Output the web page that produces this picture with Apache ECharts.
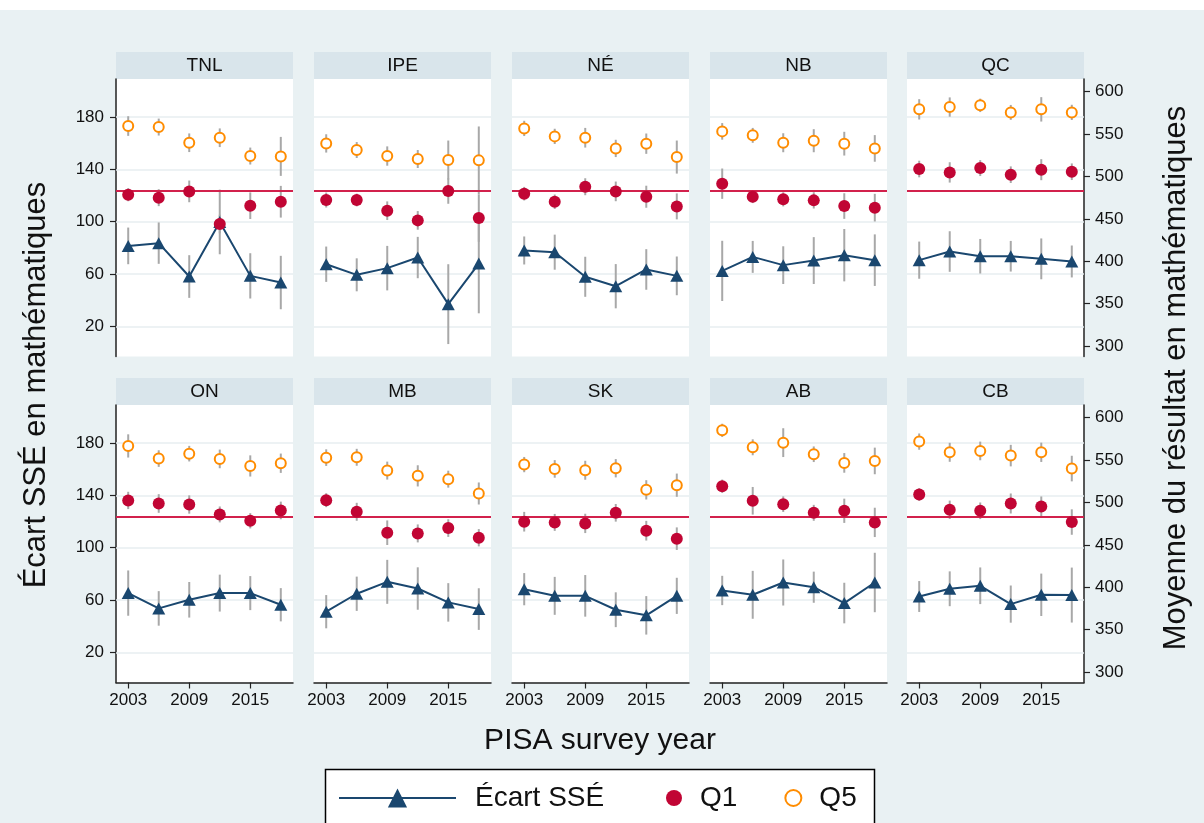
<!DOCTYPE html>
<html>
<head>
<meta charset="utf-8">
<title>Écart SSÉ en mathématiques</title>
<script src="https://cdn.jsdelivr.net/npm/echarts@6/dist/echarts.min.js"></script>
<style>
  html, body { margin: 0; padding: 0; background: #e9f1f3; }
  #chart { width: 1204px; height: 823px; }
</style>
</head>
<body>
<div id="chart"></div>
<script>
// categories
const regions = ['TNL', 'IPE', 'NÉ', 'NB', 'QC', 'ON', 'MB', 'SK', 'AB', 'CB']
const years = [2003, 2006, 2009, 2012, 2015, 2018]
const xTicks = [2003, 2009, 2015]
const leftTicks = [20, 60, 100, 140, 180]
const rightTicks = [300, 350, 400, 450, 500, 550, 600]
const refLine = 483

// Écart SSÉ (axe de gauche) et demi-largeur de l'intervalle
const ecart = [
  [81.5, 83.6, 58.1, 99.8, 58.6, 53.5],
  [67.5, 59.4, 64.5, 72.6, 37.0, 68.0],
  [78.0, 76.7, 57.9, 50.7, 63.5, 58.6],
  [62.4, 73.1, 66.8, 70.3, 74.4, 70.6],
  [70.6, 77.2, 73.6, 73.6, 71.6, 69.6],
  [65.3, 53.6, 60.2, 65.3, 65.3, 56.4],
  [51.1, 64.8, 73.9, 68.8, 58.2, 53.1],
  [68.3, 63.2, 63.2, 52.6, 48.3, 63.2],
  [67.3, 64.0, 73.4, 69.8, 57.7, 73.4],
  [62.7, 68.6, 70.9, 56.9, 64.0, 63.8]
]
const ecartErr = [
  [14, 15.8, 16.3, 24.7, 17.3, 20.4],
  [13.5, 12.6, 17, 15.8, 30.5, 38],
  [10.7, 13.4, 15.3, 16.9, 15.5, 14.8],
  [23, 12.2, 14.4, 17.9, 20, 19.7],
  [14.2, 15.5, 13.2, 11.7, 15.6, 12.2],
  [17.3, 13.2, 13.6, 14.1, 13, 12.7],
  [12.7, 13.1, 16.8, 16.2, 14.7, 15.9],
  [12.3, 14.5, 15.9, 13.3, 14.7, 13.8],
  [11.2, 18.3, 17.6, 11.9, 15.5, 22.7],
  [11.8, 13.3, 14, 14.2, 16.2, 21]
]

// Q1 (axe de droite)
const q1 = [
  [478.5, 475.0, 482.4, 443.9, 465.5, 470.2],
  [472.2, 472.2, 459.6, 448.2, 482.8, 450.9],
  [479.7, 470.2, 487.9, 482.4, 476.1, 464.7],
  [491.5, 476.1, 473.0, 471.8, 465.1, 463.2],
  [508.8, 504.8, 509.9, 502.1, 508.0, 505.6],
  [502.4, 498.8, 497.6, 485.9, 478.4, 490.6],
  [502.7, 489.0, 464.3, 463.5, 469.8, 458.4],
  [477.3, 476.5, 475.3, 487.8, 466.7, 457.3],
  [519.2, 502.0, 498.0, 487.8, 490.2, 476.5],
  [509.4, 491.4, 490.2, 498.8, 495.3, 476.9]
]
const q1Err = [
  [7.7, 10, 12.8, 11, 15.7, 18.7],
  [8.8, 7.5, 11, 11, 15, 28],
  [8, 8.5, 10, 11.6, 13, 15.3],
  [17.9, 7.5, 8.3, 9.6, 15.1, 16.3],
  [9.8, 12, 9.4, 9.8, 12.4, 9.8],
  [10.2, 11, 10.8, 9.4, 9, 10.4],
  [8.2, 10.6, 14.5, 10.6, 10.4, 10.2],
  [11.6, 10, 11.4, 10.4, 11.6, 13.3],
  [7.8, 16.3, 9.2, 9.4, 14.3, 17.3],
  [7.5, 10.8, 9.8, 11.8, 11.8, 15]
]

// Q5 (axe de droite)
const q5 = [
  [559.5, 558.3, 539.8, 545.7, 524.1, 523.7],
  [539.0, 531.2, 524.1, 520.6, 519.4, 519.0],
  [556.7, 547.3, 545.7, 533.1, 538.7, 522.9],
  [553.2, 548.5, 539.8, 542.2, 538.7, 533.1],
  [579.2, 581.9, 583.9, 575.6, 579.2, 575.6],
  [566.7, 551.8, 557.6, 551.4, 543.1, 546.3],
  [552.9, 553.3, 537.6, 531.4, 527.5, 510.6],
  [544.7, 539.6, 538.0, 540.4, 514.9, 520.4],
  [585.1, 565.1, 570.6, 556.9, 546.7, 549.0],
  [571.8, 559.2, 560.8, 555.3, 559.2, 540.0]
]
const q5Err = [
  [11.6, 10, 11, 11, 10, 23],
  [10.8, 9.4, 11.4, 10.6, 23, 40],
  [9, 9, 11.6, 10.2, 12, 19.5],
  [9.8, 8.8, 11.2, 13.6, 14, 15.7],
  [12, 11.4, 7.9, 8.8, 14.4, 9],
  [13.7, 9.8, 9.2, 11, 12.5, 11.4],
  [9.8, 10, 10.6, 12.5, 10, 13],
  [9, 10.4, 11.2, 10.8, 11.4, 13.7],
  [7.8, 9.4, 17, 9.2, 11.6, 15.7],
  [9.6, 11.2, 11, 12.7, 11.4, 15.1]
]

const FONT = '"Liberation Sans", Arial, sans-serif'
const NAVY = '#1a476f'
const RED = '#c10534'
const ORANGE = '#ff8c00'
const GREY = '#a8a8a8'

const colLeft = [116, 314, 512, 710, 907]
const rowTop = [79, 405]
const plotW = 177
const plotH = 277.5

// barres d'erreur verticales
function errorBars (means, errs) {
  return years.map(function (y, k) {
    return [y, means[k] - errs[k], means[k] + errs[k]]
  })
}
function renderBar (params, api) {
  let p1 = api.coord([api.value(0), api.value(1)])
  let p2 = api.coord([api.value(0), api.value(2)])
  return {
    type: 'line',
    shape: { x1: p1[0], y1: p1[1], x2: p2[0], y2: p2[1] },
    style: { stroke: GREY, lineWidth: 2 }
  }
}

const grid = []
const xAxis = []
const yAxis = []
const series = []
const graphic = [
  { type: 'rect', shape: { x: 0, y: 0, width: 1204, height: 10 }, style: { fill: '#fff' }, silent: true }
]

regions.forEach(function (name, i) {
  let row = Math.floor(i / 5)
  let col = i % 5
  let left = colLeft[col]
  let top = rowTop[row]

  grid.push({ left: left, top: top, width: plotW, height: plotH, show: true, backgroundColor: '#fff', borderWidth: 0 })

  // en-tête du panneau
  graphic.push({ type: 'rect', shape: { x: left, y: top - 27, width: plotW, height: 27 }, style: { fill: '#d9e5eb' }, silent: true })
  graphic.push({
    type: 'text', x: left + plotW / 2, y: top - 13, silent: true,
    style: { text: name, font: '19px ' + FONT, fill: '#111', align: 'center', verticalAlign: 'middle' }
  })

  xAxis.push({
    type: 'value', gridIndex: i, min: 2001.8, max: 2019.2, show: row === 1,
    axisLine: { onZero: false, lineStyle: { color: '#222', width: 1.5 } },
    axisTick: { length: 6, customValues: xTicks, lineStyle: { color: '#222', width: 1.2 } },
    axisLabel: {
      customValues: xTicks, fontSize: 17, fontFamily: FONT, color: '#111', margin: 9,
      formatter: function (v) { return String(v) }
    },
    splitLine: { show: false }
  })
  yAxis.push({
    type: 'value', gridIndex: i, position: 'left', min: -3, max: 209, show: col === 0,
    axisLine: { show: true, onZero: false, lineStyle: { color: '#222', width: 1.5 } },
    axisTick: { show: true, length: 6, customValues: leftTicks, lineStyle: { color: '#222', width: 1.2 } },
    axisLabel: { customValues: leftTicks, fontSize: 17, fontFamily: FONT, color: '#111', margin: 12 },
    splitLine: { show: false }
  })
  yAxis.push({
    type: 'value', gridIndex: i, position: 'right', min: 287.6, max: 615, show: col === 4,
    axisLine: { show: true, onZero: false, lineStyle: { color: '#222', width: 1.5 } },
    axisTick: { show: true, length: 6, customValues: rightTicks, lineStyle: { color: '#222', width: 1.2 } },
    axisLabel: { customValues: rightTicks, fontSize: 17, fontFamily: FONT, color: '#111', margin: 11 },
    splitLine: { show: false }
  })

  let yl = 2 * i
  let yr = 2 * i + 1

  series.push({
    type: 'custom', xAxisIndex: i, yAxisIndex: yl, z: 2, silent: true,
    renderItem: renderBar, encode: { x: 0, y: [1, 2] },
    data: errorBars(ecart[i], ecartErr[i]),
    markLine: {
      silent: true, symbol: 'none', z: 1, animation: false,
      label: { show: false },
      lineStyle: { color: '#e7eef1', width: 1.5, type: 'solid' },
      data: leftTicks.map(function (v) { return { yAxis: v } })
    }
  })
  series.push({
    type: 'custom', xAxisIndex: i, yAxisIndex: yr, z: 2, silent: true,
    renderItem: renderBar, encode: { x: 0, y: [1, 2] },
    data: errorBars(q1[i], q1Err[i]),
    markLine: {
      silent: true, symbol: 'none', z: 3, animation: false,
      label: { show: false },
      lineStyle: { color: '#d2214c', width: 2, type: 'solid' },
      data: [{ yAxis: refLine }]
    }
  })
  series.push({
    type: 'custom', xAxisIndex: i, yAxisIndex: yr, z: 2, silent: true,
    renderItem: renderBar, encode: { x: 0, y: [1, 2] },
    data: errorBars(q5[i], q5Err[i])
  })
  series.push({
    name: 'Écart SSÉ', type: 'line', xAxisIndex: i, yAxisIndex: yl, z: 4,
    symbol: 'triangle', symbolSize: [13, 12], showSymbol: true,
    lineStyle: { color: NAVY, width: 2 }, itemStyle: { color: NAVY },
    data: years.map(function (y, k) { return [y, ecart[i][k]] })
  })
  series.push({
    name: 'Q1', type: 'scatter', xAxisIndex: i, yAxisIndex: yr, z: 4,
    symbol: 'circle', symbolSize: 12, itemStyle: { color: RED, opacity: 1 },
    data: years.map(function (y, k) { return [y, q1[i][k]] })
  })
  series.push({
    name: 'Q5', type: 'scatter', xAxisIndex: i, yAxisIndex: yr, z: 4,
    symbol: 'circle', symbolSize: 10,
    itemStyle: { color: '#fff', borderColor: ORANGE, borderWidth: 2, opacity: 1 },
    data: years.map(function (y, k) { return [y, q5[i][k]] })
  })
})

// titres des axes
graphic.push({
  type: 'text', x: 36, y: 385, rotation: Math.PI / 2, silent: true,
  style: { text: 'Écart SSÉ en mathématiques', font: '31px ' + FONT, fill: '#111', align: 'center', verticalAlign: 'middle' }
})
graphic.push({
  type: 'text', x: 1176, y: 378, rotation: Math.PI / 2, silent: true,
  style: { text: 'Moyenne du résultat en mathématiques', font: '31px ' + FONT, fill: '#111', align: 'center', verticalAlign: 'middle' }
})
graphic.push({
  type: 'text', x: 600, y: 741, silent: true,
  style: { text: 'PISA survey year', font: '30px ' + FONT, fill: '#111', align: 'center', verticalAlign: 'middle' }
})
// cadre de la légende
graphic.push({
  type: 'rect', z: -1, silent: true,
  shape: { x: 325.5, y: 769.5, width: 549, height: 80 },
  style: { fill: '#fff', stroke: '#000', lineWidth: 1.5 }
})

let myChart = echarts.init(document.getElementById('chart'))
myChart.setOption({
  backgroundColor: '#e9f1f3',
  animation: false,
  grid: grid,
  xAxis: xAxis,
  yAxis: yAxis,
  legend: [
    {
      data: ['Écart SSÉ'], left: 338, top: 784, padding: 0,
      itemWidth: 117, itemHeight: 24, selectedMode: false,
      textStyle: { fontSize: 28, fontFamily: FONT, color: '#111', padding: [0, 0, 0, 14] }
    },
    {
      data: ['Q1', 'Q5'], left: 666, top: 784, padding: 0,
      itemWidth: 16, itemHeight: 16, itemGap: 47, selectedMode: false,
      textStyle: { fontSize: 28, fontFamily: FONT, color: '#111', padding: [0, 0, 0, 13] }
    }
  ],
  graphic: graphic,
  series: series
})
</script>
</body>
</html>
